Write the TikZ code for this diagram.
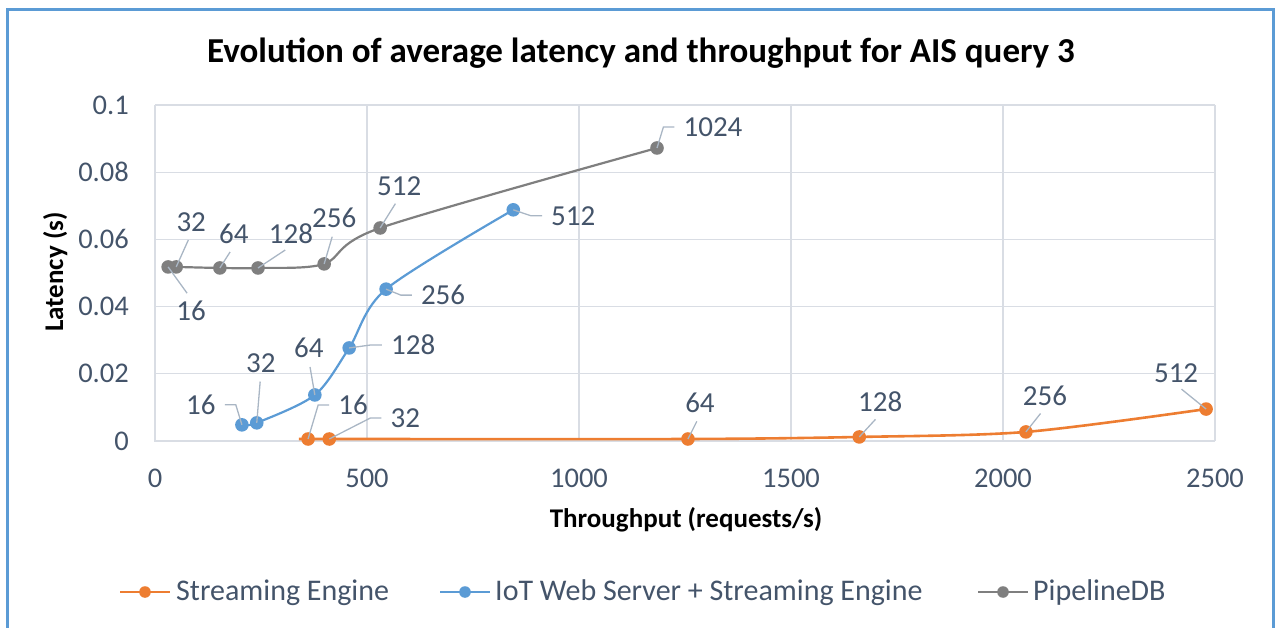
\documentclass[tikz,border=0pt]{standalone}
\usepackage{fontspec}
\setmainfont{Carlito}
\definecolor{seorange}{HTML}{ED7D31}
\definecolor{iotblue}{HTML}{5B9BD5}
\definecolor{pdbgray}{HTML}{7F7F7F}
\definecolor{gridc}{HTML}{D9DDE4}
\definecolor{txtc}{HTML}{44546A}
\definecolor{leadc}{HTML}{A9B6C4}
\definecolor{framec}{HTML}{5B9BD5}

\begin{document}
\begin{tikzpicture}[x=1pt,y=-1pt,
    gridline/.style={draw=gridc,line width=1.3pt},
    serie/.style={line width=2.2pt},
    datalbl/.style={text=txtc,font=\fontsize{29}{32}\selectfont,inner sep=2pt},
    leader/.style={draw=leadc,line width=1.3pt,shorten >=7pt},
    ticklbl/.style={text=txtc,font=\fontsize{28.5}{32}\selectfont,inner sep=0pt},
    axtitle/.style={font=\bfseries\fontsize{27}{30}\selectfont,inner sep=0pt,anchor=base},
    legtxt/.style={text=txtc,font=\fontsize{30}{34}\selectfont,inner sep=0pt,anchor=base west}]
\useasboundingbox (0,0) rectangle (1286,628);
\draw[framec,line width=3pt] (7,628) -- (7,10) -- (1273,10) -- (1273,628);
\node[font=\bfseries\fontsize{35}{40}\selectfont,inner sep=0pt,anchor=base] (title) at (641,63)
    {Evolution of average latency and throughput for AIS query 3};

\begin{scope}[shift={(155,441)},x=0.424pt,y=3360pt]
    \foreach \xv in {500,1000,...,2500}
        \draw[gridline] (\xv,0) -- (\xv,0.1);
    \foreach \yv [count=\i] in {0.02,0.04,0.06,0.08,0.1}
        \draw[gridline] (0,\yv) -- (2500,\yv);
    \draw[gridline] (0,0.1) -- (0,0) -- (2500,0);
    \foreach \yv [count=\i] in {0,0.02,0.04,0.06,0.08,0.1}
        \node[ticklbl,anchor=east] (ty\i) at ([xshift=-26pt]0,\yv) {\yv};
    \foreach \xv in {0,500,...,2500}
        \node[ticklbl] (tx\xv) at ([yshift=-37pt]\xv,0) {\xv};

    \coordinate (o16) at (361,0.0006);
    \coordinate (o32) at (411,0.0006);
    \coordinate (o64) at (1257,0.0006);
    \coordinate (o128) at (1661,0.0012);
    \coordinate (o256) at (2054,0.0027);
    \coordinate (o512) at (2479,0.0095);

    \coordinate (b16) at (205,0.0048);
    \coordinate (b32) at (240,0.0054);
    \coordinate (b64) at (377,0.0137);
    \coordinate (b128) at (458,0.0277);
    \coordinate (b256) at (545,0.0452);
    \coordinate (b512) at (845,0.0688);

    \coordinate (g16) at (31,0.0518);
    \coordinate (g32) at (50,0.0518);
    \coordinate (g64) at (153,0.0515);
    \coordinate (g128) at (243,0.0515);
    \coordinate (g256) at (399,0.0527);
    \coordinate (g512) at (531,0.0634);
    \coordinate (g1024) at (1184,0.0872);
\end{scope}

\node[axtitle,rotate=90] (ylab) at (63,272) {Latency (s)};
\node[axtitle] (xlab) at (686,527) {Throughput (requests/s)};

\draw[serie,pdbgray] plot[smooth,tension=0.5] coordinates {(g16) (g32) (g64) (g128) (g256) (g512) (g1024)};
\draw[serie,iotblue] plot[smooth,tension=0.5] coordinates {(b16) (b32) (b64) (b128) (b256) (b512)};
\draw[serie,seorange,line width=2.6pt] plot[smooth,tension=0.5] coordinates {(o16) (o32) (o64) (o128) (o256) (o512)};

\foreach \p in {g16,g32,g64,g128,g256,g512,g1024}
    \fill[pdbgray] (\p) circle[radius=6.8pt];
\foreach \p in {b16,b32,b64,b128,b256,b512}
    \fill[iotblue] (\p) circle[radius=6.8pt];
\foreach \p in {o16,o32,o64,o128,o256,o512}
    \fill[seorange] (\p) circle[radius=6.8pt];

\node[datalbl] (lg16) at ([shift={(23pt,-44pt)}]g16) {16};
\node[datalbl] (lg32) at ([shift={(15pt,45pt)}]g32) {32};
\node[datalbl] (lg64) at ([shift={(14pt,34pt)}]g64) {64};
\node[datalbl] (lg128) at ([shift={(33pt,34pt)}]g128) {128};
\node[datalbl] (lg256) at ([shift={(10pt,46pt)}]g256) {256};
\node[datalbl] (lg512) at ([shift={(19pt,42pt)}]g512) {512};
\node[datalbl] (lg1024) at ([shift={(56pt,21pt)}]g1024) {1024};

\node[datalbl] (lb16) at ([shift={(-41pt,20pt)}]b16) {16};
\node[datalbl] (lb32) at ([shift={(4pt,60pt)}]b32) {32};
\node[datalbl] (lb64) at ([shift={(-6pt,47pt)}]b64) {64};
\node[datalbl] (lb128) at ([shift={(64pt,3pt)}]b128) {128};
\node[datalbl] (lb256) at ([shift={(57pt,-6pt)}]b256) {256};
\node[datalbl] (lb512) at ([shift={(60pt,-6pt)}]b512) {512};

\node[datalbl] (lo16) at ([shift={(45pt,34pt)}]o16) {16};
\node[datalbl] (lo32) at ([shift={(76pt,21pt)}]o32) {32};
\node[datalbl] (lo64) at ([shift={(12pt,36pt)}]o64) {64};
\node[datalbl] (lo128) at ([shift={(21pt,35pt)}]o128) {128};
\node[datalbl] (lo256) at ([shift={(19pt,36pt)}]o256) {256};
\node[datalbl] (lo512) at ([shift={(-30pt,36pt)}]o512) {512};

\draw[leader] (g16) -- (lg16.north);
\draw[leader] (g32) -- (lg32.south);
\draw[leader] (g64) -- (lg64.south);
\draw[leader] (g128) -- (lg128.south);
\draw[leader] (g256) -- (lg256.south);
\draw[leader] (g512) -- (lg512.south);
\draw[leader] (g1024) -- ([xshift=-18pt]lg1024.west) -- (lg1024.west);

\draw[leader] (b16) -- ([xshift=18pt]lb16.east) -- (lb16.east);
\draw[leader] (b32) -- (lb32.south);
\draw[leader] (b64) -- (lb64.south);
\draw[leader] (b128) -- ([xshift=-18pt]lb128.west) -- (lb128.west);
\draw[leader] (b256) -- ([xshift=-18pt]lb256.west) -- (lb256.west);
\draw[leader] (b512) -- ([xshift=-18pt]lb512.west) -- (lb512.west);

\draw[leader] (o16) -- ([xshift=-18pt]lo16.west) -- (lo16.west);
\draw[leader] (o32) -- ([xshift=-18pt]lo32.west) -- (lo32.west);
\draw[leader] (o64) -- (lo64.south);
\draw[leader] (o128) -- (lo128.south);
\draw[leader] (o256) -- (lo256.south);
\draw[leader] (o512) -- (lo512.south);

\draw[serie,seorange] (120,592) -- (170,592);
\fill[seorange] (145,592) circle[radius=5.8pt];
\node[legtxt] (legse) at (176,600) {Streaming Engine};
\draw[serie,iotblue] (440,592) -- (490,592);
\fill[iotblue] (465,592) circle[radius=5.8pt];
\node[legtxt] (legiot) at (495,600) {IoT Web Server + Streaming Engine};
\draw[serie,pdbgray] (978,592) -- (1028,592);
\fill[pdbgray] (1003,592) circle[radius=5.8pt];
\node[legtxt] (legpdb) at (1033,600) {PipelineDB};
\end{tikzpicture}
\end{document}
